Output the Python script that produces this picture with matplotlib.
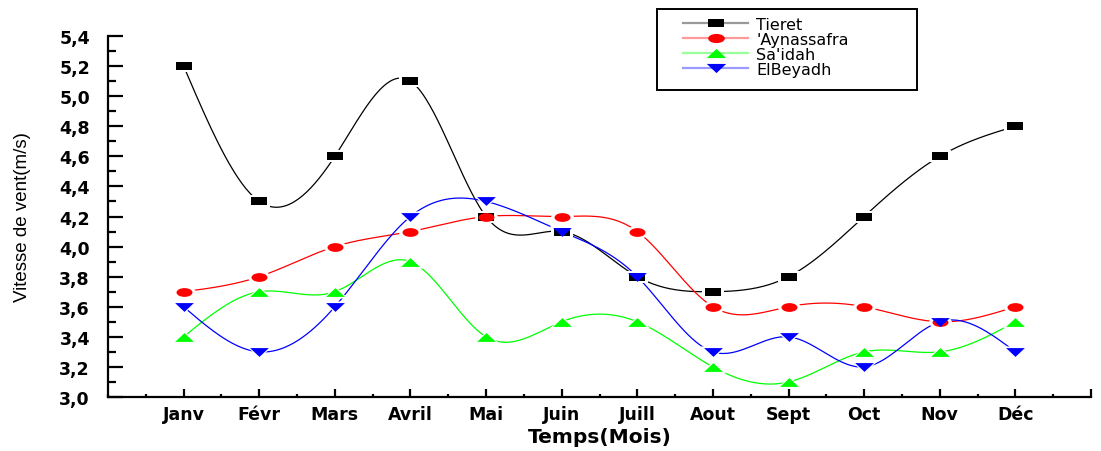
import numpy as np
import matplotlib.pyplot as plt
from matplotlib.path import Path
from matplotlib.lines import Line2D
from matplotlib.patches import Rectangle
from matplotlib.ticker import MultipleLocator, FixedLocator
from matplotlib import font_manager

mois = ["Janv", "Févr", "Mars", "Avril", "Mai", "Juin", "Juill",
        "Aout", "Sept", "Oct", "Nov", "Déc"]

tieret = [5.2, 4.3, 4.6, 5.1, 4.2, 4.1, 3.8, 3.7, 3.8, 4.2, 4.6, 4.8]
aynassafra = [3.7, 3.8, 4.0, 4.1, 4.2, 4.2, 4.1, 3.6, 3.6, 3.6, 3.5, 3.6]
saidah = [3.4, 3.7, 3.7, 3.9, 3.4, 3.5, 3.5, 3.2, 3.1, 3.3, 3.3, 3.5]
elbeyadh = [3.6, 3.3, 3.6, 4.2, 4.3, 4.1, 3.8, 3.3, 3.4, 3.2, 3.5, 3.3]


def spline(x, y, n=400):
    # natural cubic spline, like Origin's "Spline" connect
    x = np.asarray(x, float)
    y = np.asarray(y, float)
    k = len(x)
    h = np.diff(x)
    A = np.zeros((k, k))
    b = np.zeros(k)
    A[0, 0] = A[-1, -1] = 1
    for i in range(1, k - 1):
        A[i, i - 1] = h[i - 1]
        A[i, i] = 2 * (h[i - 1] + h[i])
        A[i, i + 1] = h[i]
        b[i] = 6 * ((y[i + 1] - y[i]) / h[i] - (y[i] - y[i - 1]) / h[i - 1])
    M = np.linalg.solve(A, b)
    xs = np.linspace(x[0], x[-1], n)
    idx = np.clip(np.searchsorted(x, xs) - 1, 0, k - 2)
    x0, x1 = x[idx], x[idx + 1]
    hh = x1 - x0
    t0, t1 = x1 - xs, xs - x0
    ys = (M[idx] * t0**3 + M[idx + 1] * t1**3) / (6 * hh) \
        + (y[idx] / hh - M[idx] * hh / 6) * t0 \
        + (y[idx + 1] / hh - M[idx + 1] * hh / 6) * t1
    return xs, ys


def narrow_font():
    for fam in ["Liberation Sans Narrow", "DejaVu Sans Condensed", "Liberation Sans"]:
        try:
            font_manager.findfont(fam, fallback_to_default=False)
            return fam
        except Exception:
            pass
    return "DejaVu Sans"


# wide markers (the original picture is stretched horizontally)
rect = Path([(-1, -0.5), (1, -0.5), (1, 0.5), (-1, 0.5), (-1, -0.5)],
            [1, 2, 2, 2, 79])
c = Path.unit_circle()
ellipse = Path(c.vertices * [1, 0.55], c.codes)
tri_up = Path([(-1, -0.47), (1, -0.47), (0, 0.47), (-1, -0.47)], [1, 2, 2, 79])
tri_dn = Path([(-1, 0.47), (1, 0.47), (0, -0.47), (-1, 0.47)], [1, 2, 2, 79])

series = [
    ("Tieret", tieret, "black", rect, "#999999", 11),
    ("'Aynassafra", aynassafra, "red", ellipse, "#ff9a9a", 11.5),
    ("Sa'idah", saidah, "#00ff00", tri_up, "#99ff99", 13.5),
    ("ElBeyadh", elbeyadh, "blue", tri_dn, "#9a9aff", 13.5),
]

fig = plt.figure(figsize=(11.01, 4.52), dpi=100)
ax = fig.add_axes([108 / 1101, 1 - 398 / 452, 983 / 1101, 361 / 452])

x = np.arange(1, 13)
handles = []
for name, vals, col, mk, light, ms in series:
    xs, ys = spline(x, vals)
    ax.plot(xs, ys, color=col, lw=0.9, zorder=2)
    # white halo leaves a gap in the curves around each symbol
    ax.plot(x, vals, ls="none", marker=mk, ms=ms + 5, color="white",
            markeredgewidth=0, zorder=3)
for name, vals, col, mk, light, ms in series:
    ax.plot(x, vals, ls="none", marker=mk, ms=ms, color=col,
            markeredgewidth=0, zorder=4)
    handles.append(Line2D([], [], color=light, lw=1.6, marker=mk, ms=ms + 0.5,
                          markerfacecolor=col, markeredgewidth=0))

ax.set_xlim(0, 13)
ax.set_ylim(3.0, 5.4)
ax.xaxis.set_major_locator(FixedLocator(list(range(1, 14))))
ax.xaxis.set_minor_locator(MultipleLocator(0.5))
ax.set_xticklabels(mois + [""])
yt = np.round(np.arange(3.0, 5.41, 0.2), 1)
ax.set_yticks(yt)
ax.set_yticklabels([f"{v:.1f}".replace(".", ",") for v in yt])
ax.yaxis.set_minor_locator(MultipleLocator(0.1))

for s in ["top", "right"]:
    ax.spines[s].set_visible(False)
for s in ["left", "bottom"]:
    ax.spines[s].set_linewidth(1.6)

ax.tick_params(axis="y", which="major", direction="in", length=11, width=1.6,
               pad=13, labelsize=12.5)
ax.tick_params(axis="y", which="minor", direction="in", length=5.5, width=1.6)
ax.tick_params(axis="x", which="major", direction="in", length=6, width=1.6,
               pad=6, labelsize=12.5)
ax.tick_params(axis="x", which="minor", direction="in", length=2.5, width=1.6)
for lab in ax.get_xticklabels() + ax.get_yticklabels():
    lab.set_fontweight("bold")

ax.set_xlabel("Temps(Mois)", fontsize=14.5, fontweight="bold", labelpad=3)
ax.set_ylabel("Vitesse de vent(m/s)", fontsize=13.5, family=narrow_font(),
              labelpad=20)

# legend box drawn separately so that its size follows the original
W, H = 1101, 452
fig.patches.append(Rectangle((657 / W, 1 - 91 / H), 260 / W, 81 / H,
                             transform=fig.transFigure, fill=False,
                             edgecolor="black", lw=1.4))
leg = fig.legend(handles, [s[0] for s in series], loc="upper left",
                 bbox_to_anchor=(683 / W, 1 - 18 / H), borderaxespad=0,
                 borderpad=0, frameon=False, fontsize=11.5,
                 handlelength=4.1, handletextpad=0.5, labelspacing=0.0)

fig.savefig("out.png", dpi=100)
